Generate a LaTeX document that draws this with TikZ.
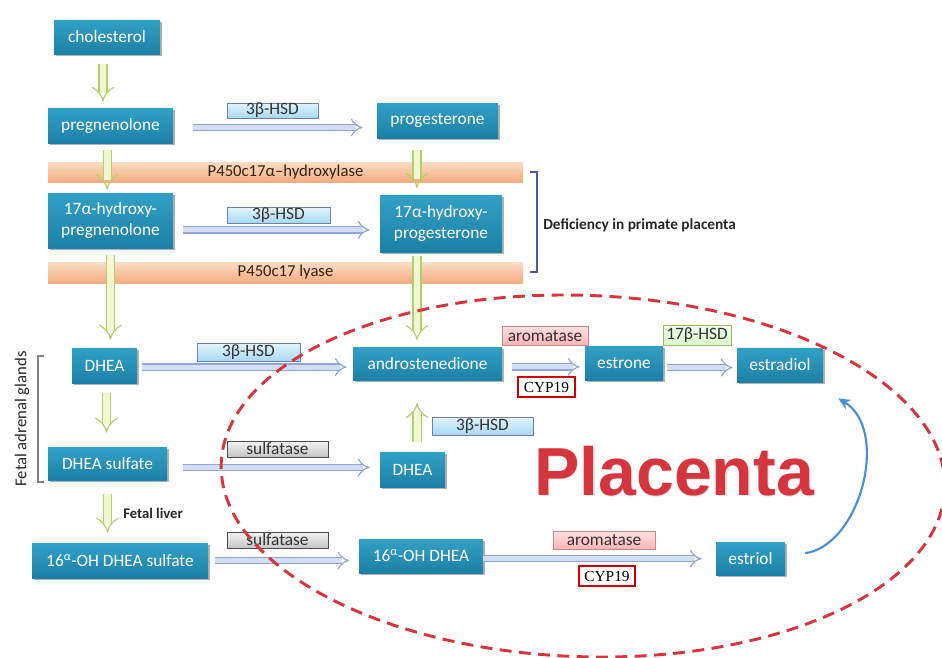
\documentclass[tikz,border=0pt]{standalone}
\usepackage{fontspec}
\setmainfont{Carlito}
\newfontfamily\serifcyp{Liberation Serif}
\newfontfamily\plfont{Liberation Sans}
\usetikzlibrary{arrows.meta,shadows,calc}
\definecolor{tealtop}{HTML}{33A0C5}
\definecolor{tealbot}{HTML}{1C80A6}
\definecolor{harline}{HTML}{8FA6D8}
\definecolor{harfill}{HTML}{D3DDF3}
\definecolor{garline}{HTML}{B2D16A}
\definecolor{garfill}{HTML}{F0F7D2}
\definecolor{oratop}{HTML}{FBDCC2}
\definecolor{orabot}{HTML}{F3AD80}
\definecolor{ellred}{HTML}{D6353D}
\definecolor{curveblue}{HTML}{4A8FD6}
\definecolor{bltop}{HTML}{E2F4FC}
\definecolor{blbot}{HTML}{A6D8F2}
\begin{document}
\begin{tikzpicture}[x=0.75pt,y=-0.75pt,
  sz/.style 2 args={minimum width=#1*0.75pt, minimum height=#2*0.75pt},
  box/.style={top color=tealtop, bottom color=tealbot, text=white, align=center, inner sep=0pt,
    font=\fontsize{13}{16}\selectfont,
    drop shadow={shadow xshift=1.2pt, shadow yshift=-1.2pt, opacity=0.3, fill=black}},
  lab/.style={inner sep=0pt, line width=0.6pt, text=black!80, font=\fontsize{13}{13}\selectfont},
  bluelab/.style={lab, top color=bltop, bottom color=blbot, draw=cyan!40!blue!40!gray},
  pinklab/.style={lab, top color=red!12, bottom color=red!30, draw=red!35!gray!70},
  greenlab/.style={lab, top color=yellow!12!green!8, bottom color=yellow!30!green!20, draw=yellow!60!green!50!gray},
  graylab/.style={lab, top color=white!90!gray, bottom color=gray!45, draw=black!70},
  cyp/.style={draw=red!80!black, line width=0.8pt, fill=white, inner sep=0pt, font=\serifcyp\fontsize{11.5}{11.5}\selectfont},
  bar/.style={top color=oratop, bottom color=orabot, inner sep=0pt, text=black!75!brown, font=\fontsize{12.5}{12.5}\selectfont},
  harrow/.style={draw=harline, double=harfill, line width=0.9pt, double distance=3.8pt, -{Implies}},
  garrow/.style={draw=garline, double=garfill, line width=0.9pt, double distance=5.2pt, -{Implies}},
  note/.style={font=\bfseries\fontsize{11.5}{13}\selectfont, text=black!85, inner sep=0pt}
]
\useasboundingbox (0,0) rectangle (942,657);

% orange bars
\node[bar, sz={475}{20}] (bar1) at (285.5,172) {P450c17α–hydroxylase};
\node[bar, sz={475}{21}] (bar2) at (285.5,272.5) {P450c17 lyase};

% main nodes
\node[box, sz={106}{34}] (chol) at (107,37) {cholesterol};
\node[box, sz={125}{35}] (preg) at (110.5,125.5) {pregnenolone};
\node[box, sz={121}{35}] (prog) at (437.5,120.5) {progesterone};
\node[box, sz={125}{55}] (hpreg) at (110.5,220.5) {17α-hydroxy-\\pregnenolone};
\node[box, sz={122}{57}] (hprog) at (441,223.5) {17α-hydroxy-\\progesterone};
\node[box, sz={65}{35}] (dhea) at (104.5,365.5) {DHEA};
\node[box, sz={149}{33}] (andro) at (427.5,363.5) {androstenedione};
\node[box, sz={78}{34}] (estrone) at (624,363) {estrone};
\node[box, sz={86}{34}] (estradiol) at (780,365) {estradiol};
\node[box, sz={119}{33}] (dheas) at (107.5,463.5) {DHEA sulfate};
\node[box, sz={65}{35}] (dheap) at (412.5,469.5) {DHEA};
\node[box, sz={176}{35}] (ohs) at (120,560.5) {16\textsuperscript{α}-OH DHEA sulfate};
\node[box, sz={124}{34}] (oh) at (421,556) {16\textsuperscript{α}-OH DHEA};
\node[box, sz={69}{33}] (estriol) at (750.5,558.5) {estriol};

% enzyme labels
\node[bluelab, sz={91}{15}] (l1) at (272.5,110.5) {3β-HSD};
\node[bluelab, sz={103}{16}] (l2) at (278.5,215) {3β-HSD};
\node[bluelab, sz={103}{18}] (l3) at (248.5,352.5) {3β-HSD};
\node[pinklab, sz={86}{19}] (l4) at (545,336) {aromatase};
\node[greenlab, sz={68}{20}] (l5) at (697,335.5) {17β-HSD};
\node[graylab, sz={101}{16}] (l6) at (277.5,449) {sulfatase};
\node[graylab, sz={101}{16}] (l7) at (277.5,540) {sulfatase};
\node[bluelab, sz={101}{18}] (l8) at (482.5,426) {3β-HSD};
\node[pinklab, sz={102}{18}] (l9) at (604,540.5) {aromatase};
\node[cyp, sz={57}{20}] (c1) at (546.5,387) {CYP19};
\node[cyp, sz={56}{20}] (c2) at (607,576) {CYP19};

% horizontal arrows
\draw[harrow, shorten <=15pt, shorten >=10.5pt] ([yshift=-1.5pt]preg.east) -- ([yshift=-1.5pt]preg.east -| prog.west);
\draw[harrow, shorten <=7.5pt, shorten >=7.5pt] ([yshift=-7pt]hpreg.east) -- ([yshift=-7pt]hpreg.east -| hprog.west);
\draw[harrow, shorten <=3.75pt, shorten >=4.5pt] ([yshift=-1.2pt]dhea.east) -- ([yshift=-1.2pt]dhea.east -| andro.west);
\draw[harrow, shorten <=7.5pt, shorten >=3.75pt] ([yshift=-2.5pt]andro.east) -- ([yshift=-2.5pt]andro.east -| estrone.west);
\draw[harrow, shorten <=3pt, shorten >=3pt] ([yshift=-3.5pt]estrone.east) -- ([yshift=-3.5pt]estrone.east -| estradiol.west);
\draw[harrow, shorten <=12pt, shorten >=7.5pt] ([yshift=-3pt]dheas.east) -- ([yshift=-3pt]dheas.east -| dheap.west);
\draw[harrow, shorten <=5pt, shorten >=7pt] (ohs.east) -- (ohs.east -| oh.west);
\draw[harrow, shorten >=10.5pt] ([yshift=-2pt]oh.east) -- ([yshift=-2pt]oh.east -| estriol.west);

% vertical arrows
\draw[garrow, shorten <=7pt, shorten >=4.5pt] ([xshift=-3pt]chol.south) -- ([xshift=-3pt]chol.south |- preg.north);
\draw[garrow, shorten <=5pt, shorten >=2.5pt] ([xshift=-2.5pt]preg.south) -- ([xshift=-2.5pt]preg.south |- hpreg.north);
\draw[garrow, shorten <=9pt, shorten >=5pt] ([xshift=-15.4pt]prog.south) -- ([xshift=-15.4pt]prog.south |- hprog.north);
\draw[garrow, shorten <=5pt, shorten >=6pt] (hpreg.south) -- (hpreg.south |- dhea.north);
\draw[garrow, shorten <=3pt, shorten >=5pt] ([xshift=-18pt]hprog.south) -- ([xshift=-18pt]hprog.south |- andro.north);
\draw[garrow, shorten <=7pt, shorten >=10.5pt] ([xshift=1.5pt]dhea.south) -- ([xshift=1.5pt]dhea.south |- dheas.north);
\draw[garrow, shorten <=10pt, shorten >=7.5pt] (dheas.south) -- (dheas.south |- ohs.north);
\draw[garrow, shorten <=7.5pt, shorten >=17pt] ([xshift=3.4pt]dheap.north) -- ([xshift=3.4pt]dheap.north |- andro.south);

% brackets and notes
\draw[draw=blue!35!gray, line width=1.2pt] (530,172) -- (537,172) -- (537,272) -- (530,272);
\node[note, anchor=west] (defic) at (543,225) {Deficiency in primate placenta};
\draw[draw=gray, line width=1pt] (44,356) -- (38,356) -- (38,482) -- (44,482);
\node[rotate=90, font=\fontsize{12.5}{12.5}\selectfont, text=black!85, inner sep=0pt] (fag) at (22,419) {Fetal adrenal glands};
\node[note, anchor=west, font=\bfseries\fontsize{11}{12}\selectfont] (fl) at (123,513) {Fetal liver};

% Placenta
\node[anchor=base, font=\plfont\bfseries\fontsize{51}{51}\selectfont, text=gray!50, opacity=0.4] at (675.5,496.5) {Placenta};
\node[anchor=base, font=\plfont\bfseries\fontsize{51}{51}\selectfont, text=ellred, inner sep=0pt] (plac) at (674,495) {Placenta};

% curved arrow estriol -> estradiol
\coordinate (cs) at ([shift={(15pt,4pt)}]estriol.east);
\coordinate (ce) at ([shift={(11.25pt,-12pt)}]estradiol.south east);
\draw[curveblue, line width=1.6pt, -{Stealth[length=9pt,width=8pt]}] (cs) .. controls +(55,-8) and +(52,32) .. (ce);

% dashed placenta ellipse
\draw[ellred, line width=2.2pt, dash pattern=on 9pt off 5.5pt, rotate around={-2:(583,476)}] (583,476) ellipse [x radius=271.5pt, y radius=135.5pt];
\end{tikzpicture}
\end{document}
